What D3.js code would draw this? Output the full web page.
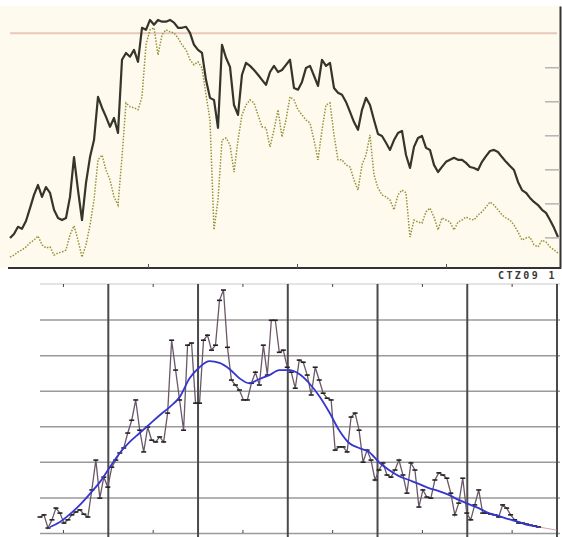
<!DOCTYPE html>
<html>
<head>
<meta charset="utf-8">
<script src="https://cdn.jsdelivr.net/npm/d3@7"></script>
<style>
    html, body { margin: 0; padding: 0; background: #fff; }
    svg { display: block; }
</style>
</head>
<body>
<div id="chart"></div>
<script>
"use strict";

// ---- top panel: two series sampled at equal steps ----
const topSolid = [
    8.8, 10.0, 12.1, 11.5, 13.8, 17.6, 21.5, 24.4, 20.9, 23.8,
    22.1, 17.1, 14.7, 14.1, 14.7, 20.9, 32.6, 22.9, 14.1, 25.0,
    32.6, 37.6, 50.3, 47.1, 44.4, 41.5, 44.1, 39.7, 61.2, 63.2,
    62.1, 64.1, 60.6, 70.6, 70.0, 72.9, 71.5, 72.9, 72.4, 72.4,
    72.9, 72.1, 70.6, 70.6, 70.9, 69.1, 65.6, 64.1, 63.2, 55.3,
    50.0, 49.4, 41.2, 65.6, 61.8, 59.1, 47.9, 45.0, 56.8, 60.3,
    59.4, 58.2, 56.8, 55.3, 53.8, 57.6, 59.4, 57.6, 58.2, 59.7,
    61.2, 52.9, 52.4, 54.7, 58.8, 59.4, 56.5, 53.5, 61.2, 59.4,
    60.3, 52.9, 51.5, 50.9, 48.8, 45.9, 42.9, 40.6, 46.5, 50.0,
    47.9, 43.5, 39.4, 38.8, 36.8, 34.7, 37.6, 39.7, 40.3, 33.2,
    29.4, 35.6, 38.2, 38.8, 35.3, 34.7, 30.3, 28.2, 29.7, 31.2,
    31.8, 32.4, 31.8, 31.8, 30.9, 29.7, 29.4, 28.8, 31.2, 32.9,
    34.4, 34.7, 34.1, 32.6, 31.2, 30.0, 28.8, 25.3, 22.9, 22.1,
    20.6, 19.4, 18.5, 17.1, 16.2, 14.1, 11.8, 9.1
];
const topDotted = [
    3.2, 3.8, 4.7, 5.3, 6.2, 7.4, 8.2, 9.4, 6.8, 5.9,
    6.2, 3.8, 4.4, 4.7, 5.3, 9.7, 12.4, 8.2, 3.2, 6.8,
    12.6, 20.0, 31.8, 33.2, 28.8, 25.9, 20.9, 18.5, 32.6, 48.5,
    47.4, 47.1, 46.5, 50.3, 65.6, 70.0, 70.6, 62.6, 68.5, 70.0,
    69.4, 69.1, 67.6, 65.6, 64.1, 61.2, 59.7, 60.6, 58.8, 50.9,
    43.5, 11.2, 20.0, 37.6, 38.2, 36.2, 28.2, 37.6, 45.0, 47.9,
    49.4, 48.5, 45.0, 41.5, 41.2, 35.6, 40.6, 46.5, 38.5, 43.5,
    50.3, 49.4, 46.5, 45.0, 43.5, 42.6, 37.6, 31.8, 40.6, 47.9,
    48.5, 39.1, 31.8, 31.8, 30.3, 29.7, 25.9, 22.9, 30.3, 33.2,
    39.1, 27.4, 23.5, 21.5, 20.9, 20.0, 17.1, 21.5, 22.9, 22.1,
    9.1, 14.1, 13.5, 13.2, 16.5, 17.6, 15.0, 11.2, 14.7, 14.1,
    13.5, 11.2, 13.5, 14.1, 15.0, 14.4, 14.1, 15.6, 16.5, 17.9,
    19.4, 18.5, 17.1, 15.6, 14.7, 14.1, 12.6, 10.6, 8.2, 8.8,
    9.1, 6.8, 6.2, 8.2, 7.6, 6.2, 5.3, 4.4
];
const topTicksY = [9, 19, 29, 39, 49, 59];
const topRefLevel = 69;
const topTicksX = [34.5, 71.75, 109];
const topLabel = "CTZ09 1";

// ---- bottom panel: raw series and its smoothed curve ----
const lowRaw = [
    4.5, 5.1, 1.4, 3.7, 7.0, 5.6, 2.8, 3.7, 5.1, 5.9,
    6.5, 5.3, 4.5, 12.1, 20.5, 9.8, 15.7, 12.9, 18.5, 20.5,
    22.5, 23.9, 28.1, 31.7, 37.4, 28.9, 22.8, 29.8, 26.1, 25.6,
    27.0, 25.6, 33.7, 54.2, 45.8, 37.4, 28.9, 52.8, 53.4, 36.5,
    36.5, 54.2, 55.6, 51.4, 52.8, 65.4, 68.3, 52.2, 43.0, 41.6,
    40.2, 37.4, 37.4, 42.1, 45.2, 41.6, 52.8, 44.4, 59.8, 59.8,
    50.8, 51.4, 46.6, 45.2, 40.7, 48.6, 48.0, 44.4, 38.8, 46.6,
    43.0, 39.3, 37.9, 37.4, 23.3, 24.2, 24.2, 22.8, 32.6, 33.7,
    28.9, 19.9, 23.3, 20.5, 14.9, 17.7, 19.7, 16.3, 15.7, 17.7,
    20.5, 16.3, 11.2, 19.7, 17.7, 7.3, 12.1, 10.1, 9.8, 14.9,
    16.9, 16.3, 15.4, 11.2, 5.1, 8.4, 15.4, 5.6, 3.7, 7.9,
    12.1, 5.6, 5.6, 5.3, 5.1, 4.5, 7.9, 7.0, 5.1, 3.7,
    2.8, 2.8, 2.5, 2.2, 2.0, 1.7
];
const lowSmooth = [
    1.7, 3.1, 5.3, 7.9, 11.0, 14.3, 18.5, 22.5, 25.6, 28.1,
    30.6, 33.1, 35.4, 38.2, 43.5, 46.6, 48.3, 47.8, 46.1, 43.5,
    42.1, 43.3, 44.4, 45.8, 45.8, 44.7, 42.1, 38.5, 34.0, 28.9,
    25.3, 23.9, 22.8, 19.9, 17.7, 16.0, 14.9, 13.8, 12.6, 11.8,
    10.7, 9.3, 8.1, 7.0, 5.6, 4.8, 3.9, 3.1, 2.2, 1.7
];
const lowSmoothStep = 2.5;
const lowTail = [[125, 1.7], [129.5, 0.8]];
const lowGridY = [0, 10, 20, 30, 40, 50, 60];
const lowTopY = 70;
const lowMajorX = [17, 39.5, 62, 84.5, 107, 129.5];
const lowMinorX = [5.75, 28.25, 50.75, 73.25, 95.75, 118.25];

const W = 562, H = 537;

const svg = d3.select("#chart").append("svg")
              .attr("width", W)
              .attr("height", H);

// ================= top panel =================
const xTop = d3.scaleLinear().domain([0, topSolid.length - 1]).range([10, 558]);
const yTop = d3.scaleLinear().domain([0, 77]).range([268, 6]);

svg.append("rect")
   .attr("x", 0).attr("y", 6)
   .attr("width", 561).attr("height", 262)
   .attr("fill", "#fffaee");

svg.append("line")
   .attr("x1", 10).attr("x2", 557)
   .attr("y1", yTop(topRefLevel)).attr("y2", yTop(topRefLevel))
   .attr("stroke", "#e6c9bb")
   .attr("stroke-width", 2);

const topLine = d3.line()
                  .x((d, i) => xTop(i))
                  .y(d => yTop(d));

svg.append("path")
   .datum(topDotted)
   .attr("d", topLine)
   .attr("fill", "none")
   .attr("stroke", "#93923a")
   .attr("stroke-width", 1.5)
   .attr("stroke-dasharray", "1.5,1.5");

svg.append("path")
   .datum(topSolid)
   .attr("d", topLine)
   .attr("fill", "none")
   .attr("stroke", "#35352a")
   .attr("stroke-width", 2.2)
   .attr("stroke-linejoin", "round");

// right axis, ticks pointing inward
const rightAxis = svg.append("g")
                     .attr("transform", "translate(560,0)")
                     .call(d3.axisLeft(yTop)
                             .tickValues(topTicksY)
                             .tickSize(15)
                             .tickSizeOuter(0)
                             .tickFormat(""));
rightAxis.select(".domain").attr("stroke", "#333").attr("stroke-width", 2);
rightAxis.selectAll(".tick line").attr("stroke", "#b5b5b5").attr("stroke-width", 1.5);

const baseAxis = svg.append("g")
                    .attr("transform", "translate(0,268)")
                    .call(d3.axisBottom(xTop)
                            .tickValues(topTicksX)
                            .tickSize(-4)
                            .tickSizeOuter(0)
                            .tickFormat(""));
baseAxis.select(".domain")
        .attr("d", "M8,0H561")
        .attr("stroke", "#333").attr("stroke-width", 2);
baseAxis.selectAll(".tick line").attr("stroke", "#555");

svg.append("text")
   .attr("x", 498).attr("y", 279)
   .attr("font-family", "DejaVu Sans Mono")
   .attr("font-weight", "bold")
   .attr("font-size", 10)
   .attr("letter-spacing", 2.4)
   .attr("fill", "#3a3a3a")
   .text(topLabel);

// ================= bottom panel =================
const xLow = d3.scaleLinear().domain([0, 129.5]).range([40, 556.5]);
const yLow = d3.scaleLinear().domain([0, 70]).range([533, 284]);

const gridH = svg.append("g")
                 .attr("transform", "translate(40,0)")
                 .call(d3.axisLeft(yLow)
                         .tickValues(lowGridY)
                         .tickSize(-520)
                         .tickFormat(""));
gridH.select(".domain").remove();
gridH.selectAll(".tick line").attr("stroke", "#9a9a9a").attr("stroke-width", 1.5);

svg.append("line")
   .attr("x1", 40).attr("x2", 560)
   .attr("y1", yLow(lowTopY)).attr("y2", yLow(lowTopY))
   .attr("stroke", "#c8c8c8");

const gridV = svg.append("g")
                 .attr("transform", `translate(0,${H})`)
                 .call(d3.axisBottom(xLow)
                         .tickValues(lowMajorX)
                         .tickSize(-(H - yLow(lowTopY)))
                         .tickFormat(""));
gridV.select(".domain").remove();
gridV.selectAll(".tick line").attr("stroke", "#4a4a4a").attr("stroke-width", 2);

const minorTop = svg.append("g")
                    .attr("transform", `translate(0,${yLow(lowTopY)})`)
                    .call(d3.axisTop(xLow).tickValues(lowMinorX).tickSize(-3).tickFormat(""));
minorTop.select(".domain").remove();
minorTop.selectAll(".tick line").attr("stroke", "#444");

const minorBot = svg.append("g")
                    .attr("transform", `translate(0,${yLow(0)})`)
                    .call(d3.axisBottom(xLow).tickValues(lowMinorX).tickSize(-3).tickFormat(""));
minorBot.select(".domain").remove();
minorBot.selectAll(".tick line").attr("stroke", "#444");

// raw series
svg.append("path")
   .datum(lowRaw)
   .attr("d", d3.line().x((d, i) => xLow(i)).y(d => yLow(d)))
   .attr("fill", "none")
   .attr("stroke", "#6a5868")
   .attr("stroke-width", 1.3);

svg.append("path")
   .datum(lowTail)
   .attr("d", d3.line().x(d => xLow(d[0])).y(d => yLow(d[1])))
   .attr("fill", "none")
   .attr("stroke", "#d7a0b0")
   .attr("stroke-width", 1);

svg.append("g")
   .selectAll("line")
   .data(lowRaw)
   .join("line")
   .attr("x1", (d, i) => xLow(i) - 2.5)
   .attr("x2", (d, i) => xLow(i) + 2.5)
   .attr("y1", d => yLow(d))
   .attr("y2", d => yLow(d))
   .attr("stroke", "#222")
   .attr("stroke-width", 1.6);

// smoothed curve
svg.append("path")
   .datum(lowSmooth)
   .attr("d", d3.line()
                .x((d, i) => xLow(lowSmoothStep * (i + 1)))
                .y(d => yLow(d))
                .curve(d3.curveMonotoneX))
   .attr("fill", "none")
   .attr("stroke", "#3535d0")
   .attr("stroke-width", 1.8);
</script>
</body>
</html>
